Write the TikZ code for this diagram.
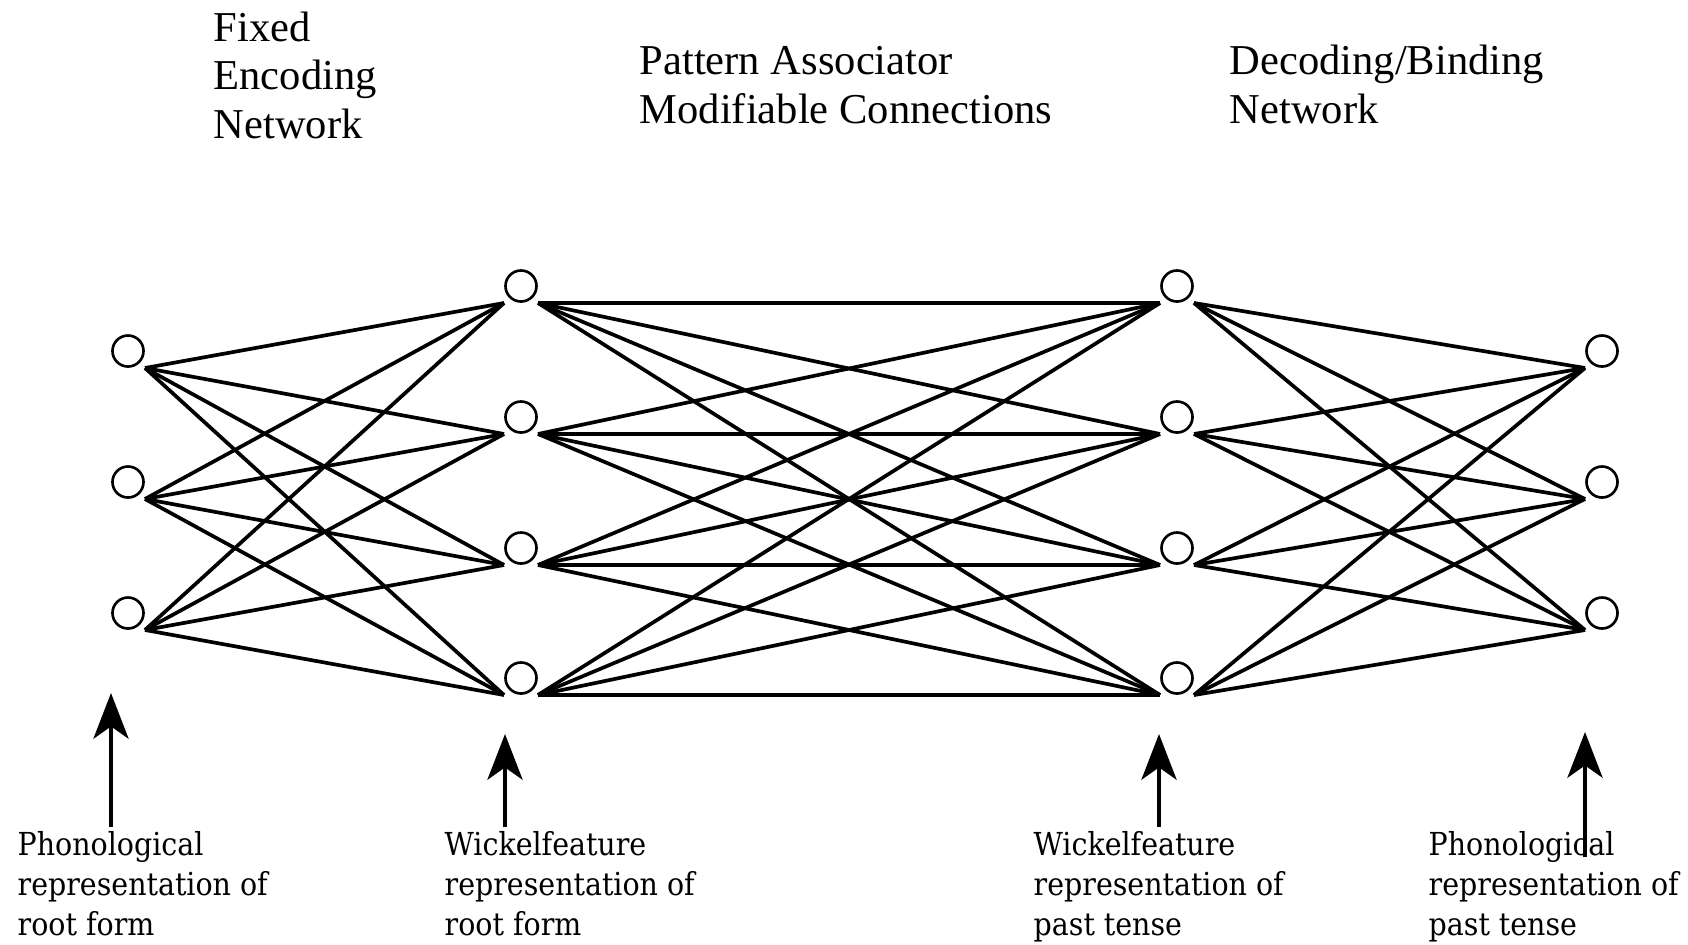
\documentclass[tikz,border=0pt]{standalone}
\usepackage{fontspec}
\setmainfont{Liberation Serif}
\newfontfamily\labelfont{DejaVu Serif Condensed}
\usetikzlibrary{arrows.meta}
\begin{document}
\begin{tikzpicture}[x=0.01cm, y=-0.01cm,
  neuron/.style={circle, draw, line width=0.75pt, minimum size=0.31cm,
                 inner sep=0pt, outer sep=0.085cm},
  link/.style={line width=1.05pt},
  feed/.style={line width=1.05pt, -{Stealth[length=13pt,width=10pt,inset=3.5pt]}},
  heading/.style={font=\fontsize{12.1pt}{13.7pt}\selectfont, align=left,
                  anchor=base west, inner sep=0pt},
  caption/.style={font=\labelfont\fontsize{9pt}{11.24pt}\selectfont, align=left,
                  anchor=base west, inner sep=0pt}]
\useasboundingbox (0,0) rectangle (1688,944);

% units: input, two Wickelfeature layers, output
\foreach \i/\y in {1/351,2/482,3/613} {
  \node[neuron] (in\i) at (128,\y) {};
  \node[neuron] (out\i) at (1602,\y) {};
}
\foreach \j/\y in {1/286,2/417,3/548,4/678} {
  \node[neuron] (wl\j) at (521,\y) {};
  \node[neuron] (wr\j) at (1177,\y) {};
}

% encoding and decoding connections
\foreach \i in {1,2,3} {
  \foreach \j in {1,...,4} {
    \draw[link] (in\i.south east) -- (wl\j.south west);
    \draw[link] (wr\j.south east) -- (out\i.south west);
  }
}
% pattern associator connections
\foreach \i in {1,...,4} {
  \foreach \j in {1,...,4} {
    \draw[link] (wl\i.south east) -- (wr\j.south west);
  }
}

% headings (anchored at the baseline of their last line)
\node[heading] (fixed) at (213,138) {Fixed\\Encoding\\Network};
\node[heading] (assoc) at (639,123) {Pattern Associator\\Modifiable Connections};
\node[heading] (decode) at (1229,123) {Decoding/Binding\\Network};

% input/output captions (anchored at the baseline of their last line)
\node[caption] (phonroot) at (17,935) {Phonological\\representation of\\root form};
\node[caption] (wickroot) at (444,935) {Wickelfeature\\representation of\\root form};
\node[caption] (wickpast) at (1033,935) {Wickelfeature\\representation of\\past tense};
\node[caption] (phonpast) at (1428,935) {Phonological\\representation of\\past tense};

% arrows pointing up at each layer
\coordinate (t1) at (111,827);  \coordinate (h1) at (111,693);
\coordinate (t2) at (505,827);  \coordinate (h2) at (505,734);
\coordinate (t3) at (1159,827); \coordinate (h3) at (1159,734);
\coordinate (t4) at (1585,857); \coordinate (h4) at (1585,732);
\foreach \k in {1,...,4} \draw[feed] (t\k) -- (h\k);
\end{tikzpicture}
\end{document}
